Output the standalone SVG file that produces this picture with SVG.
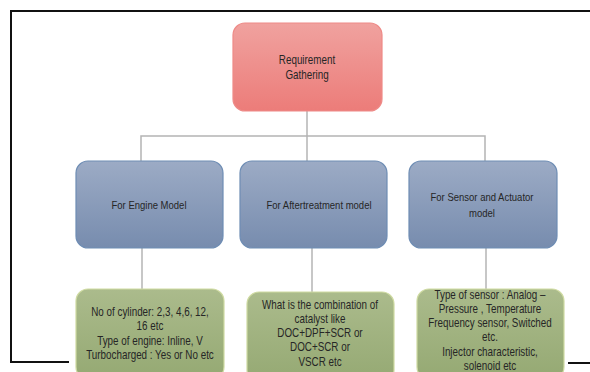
<svg xmlns="http://www.w3.org/2000/svg" width="590" height="372" viewBox="0 0 590 372">
  <defs>
    <linearGradient id="gRed" x1="0" y1="0" x2="0" y2="1">
      <stop offset="0" stop-color="#f0a29f"/>
      <stop offset="1" stop-color="#ec7c79"/>
    </linearGradient>
    <linearGradient id="gBlue" x1="0" y1="0" x2="0" y2="1">
      <stop offset="0" stop-color="#9cabc5"/>
      <stop offset="1" stop-color="#778cae"/>
    </linearGradient>
    <linearGradient id="gGreen" x1="0" y1="0" x2="0" y2="1">
      <stop offset="0" stop-color="#abbb8c"/>
      <stop offset="1" stop-color="#95a973"/>
    </linearGradient>
    <style>
      .frame { stroke: #111; stroke-width: 2; fill: none; }
      .conn { stroke: #b4b4b4; stroke-width: 1.5; fill: none; }
      .red { fill: url(#gRed); stroke: #ee8a87; stroke-width: 1.2; }
      .blue { fill: url(#gBlue); stroke: #6e8db4; stroke-width: 1.2; }
      .green { fill: url(#gGreen); stroke: #cfdba2; stroke-width: 1.2; }
      /* narrow sans: Arial metrics squeezed horizontally */
      text { font-family: "Liberation Sans", Arial, sans-serif; font-size: 12px; fill: #262626; text-anchor: middle; }
      .lvl2 { font-size: 11.6px; }
    </style>
  </defs>

  <!-- outer frame -->
  <g id="frame">
    <path class="frame" d="M590 11 H11 V362 H69"/>
    <path class="frame" d="M568 363 H590"/>
  </g>

  <!-- connectors -->
  <g id="connectors">
    <path class="conn" d="M307 111 V161"/>
    <path class="conn" d="M141 161 V136 H485 V161"/>
    <path class="conn" d="M142 248 V289"/>
    <path class="conn" d="M312 248 V292"/>
    <path class="conn" d="M486 248 V289"/>
  </g>

  <g id="requirement-gathering">
    <rect class="red" x="233" y="23" width="149" height="88" rx="12"/>
    <g transform="translate(307,0) scale(0.82,1)">
      <text x="0" y="64">Requirement</text>
      <text x="0" y="79">Gathering</text>
    </g>
  </g>

  <g id="engine-model">
    <rect class="blue" x="76" y="161" width="147" height="87" rx="12"/>
    <g transform="translate(149,0) scale(0.82,1)">
      <text class="lvl2" x="0" y="209">For Engine Model</text>
    </g>
  </g>

  <g id="aftertreatment-model">
    <rect class="blue" x="240" y="161" width="147" height="87" rx="12"/>
    <g transform="translate(319,0) scale(0.82,1)">
      <text class="lvl2" x="0" y="209">For Aftertreatment model</text>
    </g>
  </g>

  <g id="sensor-actuator-model">
    <rect class="blue" x="409" y="161" width="148" height="87" rx="12"/>
    <g transform="translate(482,0) scale(0.82,1)">
      <text class="lvl2" x="0" y="201">For Sensor and Actuator</text>
      <text class="lvl2" x="0" y="217">model</text>
    </g>
  </g>

  <g id="engine-details">
    <rect class="green" x="76" y="289" width="148" height="90" rx="12"/>
    <g transform="translate(150,0) scale(0.82,1)">
      <text x="0" y="316">No of cylinder: 2,3, 4,6, 12,</text>
      <text x="0" y="330.5">16 etc</text>
      <text x="0" y="345">Type of engine: Inline, V</text>
      <text x="0" y="359.5">Turbocharged : Yes or No etc</text>
    </g>
  </g>

  <g id="aftertreatment-details">
    <rect class="green" x="247" y="292" width="147" height="90" rx="12"/>
    <g transform="translate(320,0) scale(0.82,1)">
      <text x="0" y="309">What is the combination of</text>
      <text x="0" y="323">catalyst like</text>
      <text x="0" y="337">DOC+DPF+SCR or</text>
      <text x="0" y="351.5">DOC+SCR or</text>
      <text x="0" y="366">VSCR etc</text>
    </g>
  </g>

  <g id="sensor-details">
    <rect class="green" x="417" y="289" width="147" height="90" rx="12"/>
    <g transform="translate(490,0) scale(0.82,1)">
      <text x="0" y="299">Type of sensor : Analog –</text>
      <text x="0" y="313">Pressure , Temperature</text>
      <text x="0" y="327">Frequency sensor, Switched</text>
      <text x="0" y="341.5">etc.</text>
      <text x="0" y="356">Injector characteristic,</text>
      <text x="0" y="370.5">solenoid etc</text>
    </g>
  </g>
</svg>
